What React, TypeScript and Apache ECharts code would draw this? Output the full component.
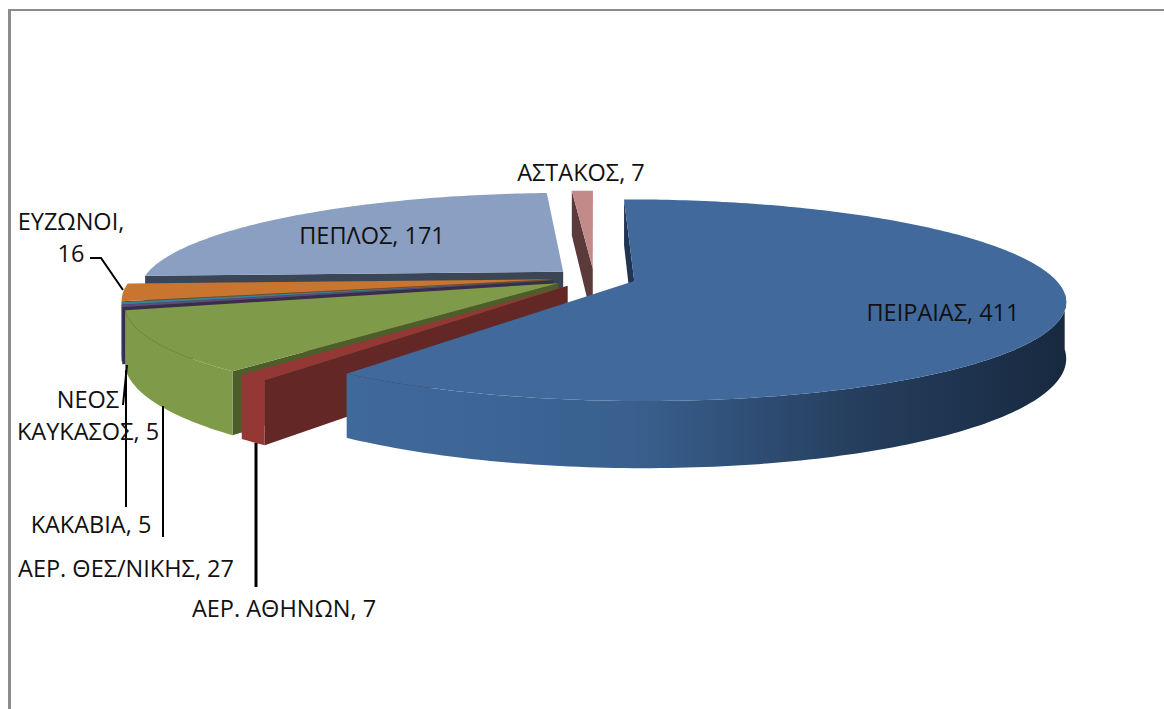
import React, { useEffect, useRef } from "react";
import * as echarts from "echarts";

const sliceNames = ["ΠΕΙΡΑΙΑΣ", "ΑΕΡ. ΑΘΗΝΩΝ", "ΑΕΡ. ΘΕΣ/ΝΙΚΗΣ", "ΚΑΚΑΒΙΑ", "ΝΕΟΣ ΚΑΥΚΑΣΟΣ", "ΕΥΖΩΝΟΙ", "ΠΕΠΛΟΣ", "ΑΣΤΑΚΟΣ"];
const sliceValues = [411, 7, 27, 5, 5, 16, 171, 7];
const topColors = ["#41699c", "#953735", "#7f9a48", "#604a7b", "#31859c", "#c8752f", "#8a9fc1", "#c28a88"];
const wallColors = ["#1f3552", "#632826", "#4d5e2b", "#3a2c4c", "#1f5563", "#7a4a20", "#3a4555", "#5a3a3a"];
const rimColors = ["#41699c", "#953735", "#7f9a48", "#4f3d68", "#2a7285", "#a8622a", "#6f83a3", "#a87472"];
// Excel's 3-D view does not keep angles: [angle from the values, angle seen in the picture]
const viewAngles: [number, number][] = [[0, -0.6], [228, 216.2], [231.9, 220], [246.9, 255], [249.7, 256.2], [252.4, 257.4], [261.3, 267.5], [356.1, 356.5], [360, 360]];
const paintOrder = [7, 6, 5, 4, 3, 2, 1, 0];

const cx = 594, cy = 278, Rx = 420, Ry = 96, persp = 0.19, depth = 54, explode = 0.1;

const rad = (d: number) => (d * Math.PI) / 180;
const warp = (a: number) => {
  for (let i = 1; i < viewAngles.length; i++) {
    const [a0, b0] = viewAngles[i - 1];
    const [a1, b1] = viewAngles[i];
    if (a <= a1) return b0 + ((a - a0) / (a1 - a0)) * (b1 - b0);
  }
  return a;
};
const project = (X: number, Y: number, z: number): [number, number] => {
  const d = 1 - persp * Y;
  return [cx + (Rx * X) / d, cy + (Ry * Y + z * depth) / d];
};

const total = sliceValues.reduce((a, b) => a + b, 0);
const sliceRange = (i: number) => {
  let s = 0;
  for (let k = 0; k < i; k++) s += sliceValues[k];
  return [warp((s / total) * 360), warp(((s + sliceValues[i]) / total) * 360)];
};

function renderSlice(params: any) {
  const i = params.dataIndex;
  const [a0, a1] = sliceRange(i);
  const mid = rad((a0 + a1) / 2);
  const ex = explode * Math.sin(mid), ey = -explode * Math.cos(mid);
  const pt = (deg: number, r: number, z: number) =>
    project(ex + r * Math.sin(rad(deg)), ey - r * Math.cos(rad(deg)), z);
  const base = paintOrder.indexOf(i) * 10;
  const arc: number[] = [];
  const steps = Math.max(2, Math.ceil((a1 - a0) / 1));
  for (let k = 0; k <= steps; k++) arc.push(a0 + ((a1 - a0) * k) / steps);

  const children: any[] = [];
  // radial wall at the slice's first edge
  children.push({
    type: "polygon", z2: base + 1,
    shape: { points: [pt(a0, 0, 0), pt(a0, 1, 0), pt(a0, 1, 1), pt(a0, 0, 1)] },
    style: { fill: wallColors[i] },
  });
  // outer rim, front-facing part only
  const front = arc.filter((d) => d > 97 && d < 260);
  if (front.length > 1) {
    const fill = i === 0
      ? new echarts.graphic.LinearGradient(0, 0, 1, 0, [
          { offset: 0, color: "#40699c" },
          { offset: 0.4, color: "#39608e" },
          { offset: 0.7, color: "#263f5f" },
          { offset: 1, color: "#17293f" },
        ])
      : rimColors[i];
    children.push({
      type: "polygon", z2: base + 2,
      shape: { points: [...front.map((d) => pt(d, 1, 0)), ...front.slice().reverse().map((d) => pt(d, 1, 1))] },
      style: { fill },
    });
  }
  // top face
  children.push({
    type: "polygon", z2: base + 3,
    shape: { points: [pt(a0, 0, 0), ...arc.map((d) => pt(d, 1, 0))] },
    style: { fill: topColors[i] },
  });
  return { type: "group", children };
}

const labelFont = '23.5px "Open Sans", "Noto Sans", sans-serif';
const label = (text: string, x: number, y: number) => ({
  type: "text", z: 10,
  style: { text, x, y, font: labelFont, fill: "#111", textAlign: "center", textVerticalAlign: "middle", lineHeight: 32 },
});
const leader = (points: number[][], lineWidth = 2) => ({
  type: "polyline", z: 9,
  shape: { points },
  style: { stroke: "#000", lineWidth, fill: "none" },
});
const txt = (i: number) => `${sliceNames[i]}, ${sliceValues[i]}`;

export default function App() {
  const ref = useRef<HTMLDivElement>(null);
  useEffect(() => {
    document.body.style.margin = "0";
    const chart = echarts.init(ref.current!, undefined, { renderer: "svg" });
    chart.setOption({
      animation: false,
      backgroundColor: "#fff",
      series: [{
        type: "custom",
        coordinateSystem: "none",
        renderItem: renderSlice,
        data: sliceValues.map((v) => [v]),
        clip: false,
        silent: true,
      }],
      graphic: [
        { type: "rect", z: 8, shape: { x: 8, y: 9, width: 1156, height: 2 }, style: { fill: "#8c8c8c" } },
        { type: "rect", z: 8, shape: { x: 8, y: 9, width: 3, height: 700 }, style: { fill: "#8c8c8c" } },
        leader([[90, 258], [101, 258], [123, 290]]),
        leader([[127, 365], [123, 405]]),
        leader([[126, 370], [126, 507]]),
        leader([[163, 406], [163, 537]]),
        leader([[256, 443], [256, 587]], 3),
        label(txt(0), 943, 312),
        label(txt(6), 372, 235),
        label(txt(7), 581, 172),
        label(`${sliceNames[5]},\n${sliceValues[5]}`, 71, 237),
        label(`ΝΕΟΣ\nΚΑΥΚΑΣΟΣ, ${sliceValues[4]}`, 88, 415),
        label(txt(3), 91, 524),
        label(txt(2), 126, 568),
        label(txt(1), 284, 608),
      ],
    });
    return () => chart.dispose();
  }, []);
  return <div ref={ref} style={{ position: "fixed", left: 0, top: 0, width: 1164, height: 709 }} />;
}
